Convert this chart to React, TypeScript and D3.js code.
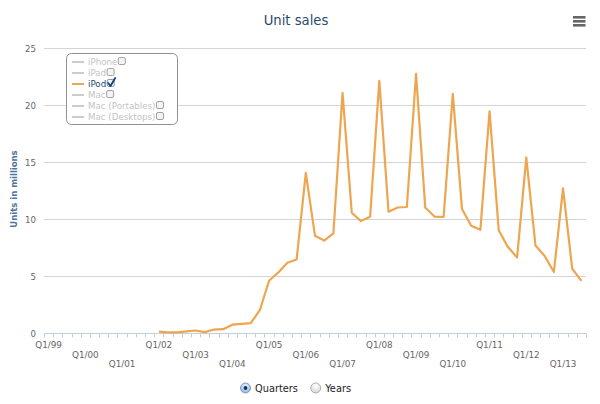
import { useEffect, useRef } from "react";
import * as d3 from "d3";

const W = 600;
const H = 404;
const M = { top: 48, right: 14, bottom: 71, left: 44 };
const FONT = "'DejaVu Sans', Verdana, sans-serif";

const years = ["99", "00", "01", "02", "03", "04", "05", "06", "07", "08", "09", "10", "11", "12", "13"];
const quarters = ["Q1", "Q2", "Q3", "Q4"];
const categories = years
  .flatMap((y) => quarters.map((q) => `${q}/${y}`))
  .slice(0, 59);

// iPod units (millions), Q1/99 .. Q3/13
const ipod: (number | null)[] = [
  null, null, null, null, null, null, null, null, null, null, null, null,
  0.125, 0.057, 0.054, 0.14,
  0.219, 0.078, 0.304, 0.336,
  0.733, 0.807, 0.86, 2.016,
  4.58, 5.311, 6.155, 6.451,
  14.043, 8.526, 8.111, 8.729,
  21.066, 10.549, 9.815, 10.2,
  22.121, 10.644, 11.011, 11.052,
  22.727, 11.013, 10.215, 10.177,
  20.97, 10.885, 9.406, 9.051,
  19.446, 9.017, 7.535, 6.623,
  15.397, 7.673, 6.751, 5.344,
  12.679, 5.633, 4.569,
];

const yTicks = [0, 5, 10, 15, 20, 25];
const legendItems = ["iPhone", "iPad", "iPod", "Mac", "Mac (Portables)", "Mac (Desktops)"];
const visibleSeries = ["iPod"];
const radioOptions = ["Quarters", "Years"];

const LINE_COLOR = "#eda64f";

export default function App() {
  const svgRef = useRef<SVGSVGElement>(null);

  useEffect(() => {
    if (!svgRef.current) return;
    const root = d3.select(svgRef.current);
    root.selectAll("*").remove();

    const x = d3
      .scaleBand<string>()
      .domain(categories)
      .range([M.left, W - M.right])
      .padding(0);
    const cx = (c: string) => (x(c) ?? 0) + x.bandwidth() / 2;
    const y = d3.scaleLinear().domain([0, 25]).range([H - M.bottom, M.top]);

    const defs = root.append("defs");
    const rg = defs.append("radialGradient").attr("id", "radioOff").attr("cx", "50%").attr("cy", "30%").attr("r", "70%");
    rg.append("stop").attr("offset", "0%").attr("stop-color", "#ffffff");
    rg.append("stop").attr("offset", "100%").attr("stop-color", "#d6d6d6");
    const rg2 = defs.append("radialGradient").attr("id", "radioOn").attr("cx", "50%").attr("cy", "30%").attr("r", "70%");
    rg2.append("stop").attr("offset", "0%").attr("stop-color", "#e4f0fb");
    rg2.append("stop").attr("offset", "100%").attr("stop-color", "#8fb8e2");

    // title
    root
      .append("text")
      .attr("x", 296)
      .attr("y", 25)
      .attr("text-anchor", "middle")
      .attr("font-family", FONT)
      .attr("font-size", 13.2)
      .attr("fill", "#274b6d")
      .text("Unit sales");

    // menu button
    [16, 20, 24].forEach((ty) => {
      root.append("rect").attr("x", 573).attr("y", ty).attr("width", 12.5).attr("height", 2.6).attr("fill", "#666");
    });

    // grid + y labels
    yTicks.forEach((t) => {
      const yy = Math.round(y(t)) + 0.5;
      if (t > 0) {
        root
          .append("line")
          .attr("x1", M.left)
          .attr("x2", W - M.right)
          .attr("y1", yy)
          .attr("y2", yy)
          .attr("stroke", "#d4d4d4")
          .attr("stroke-width", 1);
      }
      root
        .append("text")
        .attr("x", 36)
        .attr("y", yy + 3.3)
        .attr("text-anchor", "end")
        .attr("font-family", FONT)
        .attr("font-size", 8.6)
        .attr("fill", "#666")
        .text(t);
    });

    // y axis title
    root
      .append("text")
      .attr("transform", `translate(16.5,189) rotate(-90)`)
      .attr("text-anchor", "middle")
      .attr("font-family", FONT)
      .attr("font-size", 8.5)
      .attr("font-weight", "bold")
      .attr("fill", "#4d759e")
      .text("Units in millions");

    // x axis line + ticks
    const axisY = Math.round(y(0)) + 0.5;
    root
      .append("line")
      .attr("x1", M.left)
      .attr("x2", W - M.right)
      .attr("y1", axisY)
      .attr("y2", axisY)
      .attr("stroke", "#c0d0e0");
    const tickXs = categories.map((c) => x(c) ?? 0).concat([W - M.right]);
    tickXs.forEach((tx) => {
      const px = Math.round(tx) + 0.5;
      root
        .append("line")
        .attr("x1", px)
        .attr("x2", px)
        .attr("y1", axisY)
        .attr("y2", axisY + 4)
        .attr("stroke", "#c0d0e0");
    });

    const rowY = [348, 357.7, 367.4];
    categories
      .filter((_, i) => i % 4 === 0)
      .forEach((c, k) => {
        root
          .append("text")
          .attr("x", cx(c))
          .attr("y", rowY[k % 3])
          .attr("text-anchor", "middle")
          .attr("font-family", FONT)
          .attr("font-size", 8.8)
          .attr("fill", "#666")
          .text(c);
      });

    // series line
    const line = d3
      .line<number | null>()
      .defined((d) => d !== null)
      .x((_, i) => cx(categories[i]))
      .y((d) => y(d as number));
    root
      .append("path")
      .datum(ipod)
      .attr("d", line)
      .attr("fill", "none")
      .attr("stroke", LINE_COLOR)
      .attr("stroke-width", 2.2)
      .attr("stroke-linejoin", "round");

    // legend
    const lg = root.append("g");
    lg.append("rect")
      .attr("x", 66.5)
      .attr("y", 53.5)
      .attr("width", 111)
      .attr("height", 71)
      .attr("rx", 5)
      .attr("fill", "white")
      .attr("stroke", "#909090");
    legendItems.forEach((name, i) => {
      const on = visibleSeries.includes(name);
      const ly = 62 + i * 11;
      const col = on ? LINE_COLOR : "#cccccc";
      lg.append("line")
        .attr("x1", 72)
        .attr("x2", 84)
        .attr("y1", ly)
        .attr("y2", ly)
        .attr("stroke", col)
        .attr("stroke-width", 2);
      const txt = lg
        .append("text")
        .attr("x", 88)
        .attr("y", ly + 3.2)
        .attr("font-family", FONT)
        .attr("font-size", 8.7)
        .attr("fill", on ? "#274b6d" : "#c4c4c4")
        .text(name);
      const tw = (txt.node() as SVGTextElement).getComputedTextLength();
      const bx = 88 + tw + 0.5;
      lg.append("rect")
        .attr("x", bx + 0.5)
        .attr("y", ly - 4.5)
        .attr("width", 7)
        .attr("height", 7)
        .attr("rx", 1.5)
        .attr("fill", "#f4f4f4")
        .attr("stroke", on ? "#5a7fb0" : "#8a8a8a")
        .attr("stroke-width", 0.8);
      if (on) {
        lg.append("path")
          .attr("d", `M${bx + 1.5},${ly - 1} L${bx + 3.8},${ly + 2} L${bx + 8.5},${ly - 6}`)
          .attr("fill", "none")
          .attr("stroke", "#1c3f78")
          .attr("stroke-width", 1.8)
          .attr("stroke-linecap", "round")
          .attr("stroke-linejoin", "round");
      }
    });

    // period radio buttons
    const radioX = [245.5, 315.7];
    radioOptions.forEach((opt, i) => {
      const on = i === 0;
      root
        .append("circle")
        .attr("cx", radioX[i])
        .attr("cy", 388)
        .attr("r", 5)
        .attr("fill", on ? "url(#radioOn)" : "url(#radioOff)")
        .attr("stroke", on ? "#5f88b8" : "#9a9a9a")
        .attr("stroke-width", 0.8);
      if (on) {
        root.append("circle").attr("cx", radioX[i]).attr("cy", 388).attr("r", 1.9).attr("fill", "#17305a");
      }
      root
        .append("text")
        .attr("x", radioX[i] + 9.5)
        .attr("y", 392)
        .attr("font-family", FONT)
        .attr("font-size", 9.8)
        .attr("fill", "#222")
        .text(opt);
    });
  }, []);

  return (
    <svg
      ref={svgRef}
      width={W}
      height={H}
      viewBox={`0 0 ${W} ${H}`}
      style={{ position: "absolute", left: 0, top: 0, background: "white" }}
    />
  );
}
